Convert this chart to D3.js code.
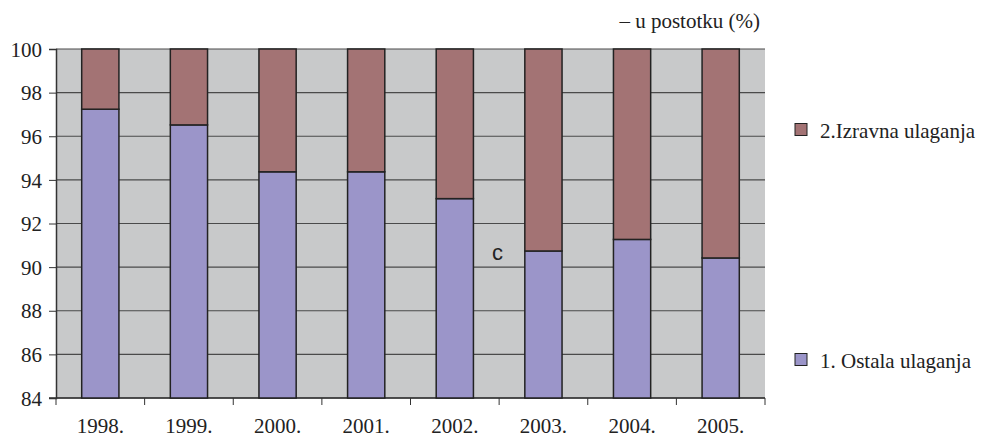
<!DOCTYPE html>
<html>
<head>
<meta charset="utf-8">
<script src="https://cdn.jsdelivr.net/npm/d3@7"></script>
<style>
body { margin: 0; background: #fff; }
</style>
</head>
<body>
<div class="bar-chart"></div>
<script>
// data
const years = ['1998.', '1999.', '2000.', '2001.', '2002.', '2003.', '2004.', '2005.']
const ostala = [97.24, 96.52, 94.37, 94.37, 93.14, 90.74, 91.27, 90.42]
const izravna = ostala.map(v => 100 - v)
const yTicks = [84, 86, 88, 90, 92, 94, 96, 98, 100]
const seriesNames = ['1. Ostala ulaganja', '2.Izravna ulaganja']

const colors = {ostala: '#9b95c9', izravna: '#a37374'}
const serif = "'Liberation Serif', 'Times New Roman', 'DejaVu Serif', serif"

const margin = {top: 49, right: 218, bottom: 39, left: 56}
const width = 983 - margin.left - margin.right
const height = 437 - margin.top - margin.bottom

const svg = d3.select(".bar-chart").append("svg")
        .attr("width", 983)
        .attr("height", 437)
    .append("g")
        .attr("transform", "translate(" + margin.left + "," + margin.top + ")")

const xScale = d3.scaleBand()
    .domain(years)
    .range([0, width])
    .paddingInner(0.58)
    .paddingOuter(0.29)

const yScale = d3.scaleLinear()
    .domain([84, 100])
    .range([height, 0])

// plot background
svg.append("rect")
    .attr("width", width)
    .attr("height", height)
    .attr("fill", "#c8c9ca")

// grid
svg.append("g")
    .selectAll("line")
    .data(yTicks)
    .join("line")
        .attr("x1", 0)
        .attr("x2", width)
        .attr("y1", d => yScale(d))
        .attr("y2", d => yScale(d))
        .attr("stroke", "#4a4a4a")
        .attr("stroke-width", 1.2)

const yAxis = d3.axisLeft(yScale)
    .tickValues(yTicks)
    .tickSize(7)
    .tickPadding(7)

svg.append("g")
    .attr("class", "y-axis")
    .call(yAxis)
    .attr("font-family", null)
    .attr("font-size", null)
    .call(g => g.select(".domain").attr("stroke", "#333").attr("stroke-width", 1.5))
    .call(g => g.selectAll(".tick line").attr("stroke", "#333"))
    .call(g => g.selectAll("text")
        .style("font-family", serif)
        .style("font-size", "21px")
        .attr("dy", "0.34em")
        .attr("fill", "#222"))

// bottom axis: category boundaries
const step = xScale.step()
const bounds = d3.range(years.length + 1).map(i => i * step)

const xGroup = svg.append("g").attr("transform", `translate(0, ${height})`)
xGroup.append("line")
    .attr("x1", -7).attr("x2", width)
    .attr("stroke", "#333").attr("stroke-width", 1.5)
xGroup.selectAll(".bt")
    .data(bounds)
    .join("line")
        .attr("class", "bt")
        .attr("x1", d => d).attr("x2", d => d)
        .attr("y1", 0).attr("y2", 7)
        .attr("stroke", "#333")
xGroup.selectAll("text")
    .data(years)
    .join("text")
        .attr("x", d => xScale(d) + xScale.bandwidth() / 2)
        .attr("y", 35)
        .attr("text-anchor", "middle")
        .attr("fill", "#222")
        .style("font-family", serif)
        .style("font-size", "21px")
        .text(d => d)

// stacked bars
const bars = svg.append("g")
bars.selectAll(".ost")
    .data(years)
    .join("rect")
        .attr("class", "ost")
        .attr("x", d => xScale(d))
        .attr("width", xScale.bandwidth())
        .attr("y", (d, i) => yScale(ostala[i]))
        .attr("height", (d, i) => height - yScale(ostala[i]))
        .attr("fill", colors.ostala)
        .attr("stroke", "#222")
        .attr("stroke-width", 1.5)
bars.selectAll(".izr")
    .data(years)
    .join("rect")
        .attr("class", "izr")
        .attr("x", d => xScale(d))
        .attr("width", xScale.bandwidth())
        .attr("y", (d, i) => yScale(ostala[i] + izravna[i]))
        .attr("height", (d, i) => yScale(ostala[i]) - yScale(ostala[i] + izravna[i]))
        .attr("fill", colors.izravna)
        .attr("stroke", "#222")
        .attr("stroke-width", 1.5)

// stray letter inside the plot
svg.append("text")
    .attr("x", 436)
    .attr("y", 211)
    .attr("fill", "#222")
    .style("font-family", "'Liberation Sans', Arial, sans-serif")
    .style("font-size", "22px")
    .text("c")

// unit label
svg.append("text")
    .attr("x", width - 5)
    .attr("y", -21)
    .attr("text-anchor", "end")
    .attr("fill", "#222")
    .style("font-family", serif)
    .style("font-size", "21px")
    .text("\u2013 u postotku (%)")

// legend
const legend = [
    {name: seriesNames[1], color: colors.izravna, y: 74.5},
    {name: seriesNames[0], color: colors.ostala, y: 304.5}
]
const lg = svg.append("g").attr("transform", `translate(${width + 30}, 0)`)
lg.selectAll("rect")
    .data(legend)
    .join("rect")
        .attr("x", 0)
        .attr("y", d => d.y)
        .attr("width", 12)
        .attr("height", 12)
        .attr("fill", d => d.color)
        .attr("stroke", "#222")
lg.selectAll("text")
    .data(legend)
    .join("text")
        .attr("x", 25)
        .attr("y", d => d.y + 14.5)
        .attr("fill", "#222")
        .style("font-family", serif)
        .style("font-size", "21px")
        .text(d => d.name)
</script>
</body>
</html>
